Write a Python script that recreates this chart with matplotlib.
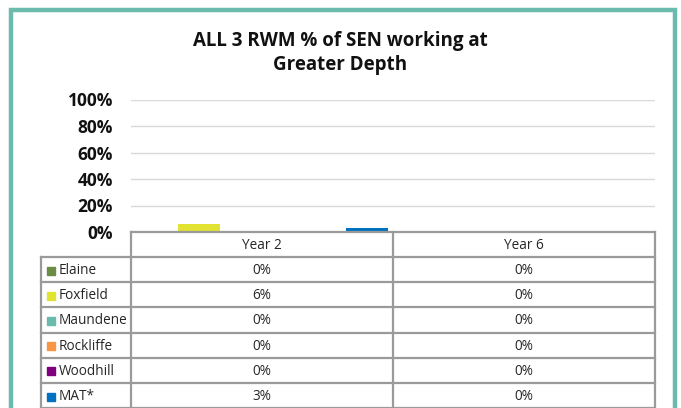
import matplotlib.pyplot as plt
from matplotlib.lines import Line2D
from matplotlib.patches import Rectangle
import numpy as np

plt.rcParams['font.family'] = ['Open Sans', 'DejaVu Sans']

# data
categories = ['Year 2', 'Year 6']
schools = ['Elaine', 'Foxfield', 'Maundene', 'Rockliffe', 'Woodhill', 'MAT*']
values = {
    'Elaine':    [0, 0],
    'Foxfield':  [6, 0],
    'Maundene':  [0, 0],
    'Rockliffe': [0, 0],
    'Woodhill':  [0, 0],
    'MAT*':      [3, 0],
}
colors = ['#6a8c44', '#e2e232', '#6bbaae', '#f79646', '#7f007f', '#0070c0']
yticks = [0, 20, 40, 60, 80, 100]

W, H = 681, 408
fig = plt.figure(figsize=(W / 100, H / 100), dpi=100)


def fx(px):
    return px / W


def fy(py):
    return 1 - py / H


# outer teal frame
fig.add_artist(Rectangle((fx(11), fy(430)), fx(674.5) - fx(11), fy(10) - fy(430),
                         fill=False, edgecolor='#6bbaae', linewidth=3.2))

fig.text(0.5, fy(41), 'ALL 3 RWM % of SEN working at', ha='center', va='center',
         fontsize=13.5, fontweight='bold', color='#111111')
fig.text(0.5, fy(65), 'Greater Depth', ha='center', va='center',
         fontsize=13.5, fontweight='bold', color='#111111')

# plot area
left, right, top, bottom = 131, 655, 99.5, 232
ax = fig.add_axes([fx(left), fy(bottom), fx(right) - fx(left), fy(top) - fy(bottom)])
bw = 0.16
x = np.arange(len(categories))
for i, s in enumerate(schools):
    ax.bar(x + (i - 2.5) * bw, values[s], width=bw, color=colors[i], zorder=3)
ax.set_xlim(-0.5, 1.5)
ax.set_ylim(0, 100)
ax.set_yticks(yticks)
ax.set_yticklabels([f'{t}%' for t in yticks], fontsize=12.5, fontweight='bold', color='#111111')
ax.tick_params(axis='y', length=0, pad=13)
ax.set_xticks([])
for sp in ax.spines.values():
    sp.set_visible(False)
ax.grid(axis='y', color='#d9d9d9', linewidth=1, zorder=0)

# data table below the axes
lc = '#9a9a9a'
lw = 1.6
row_h = 25.2
header_top = 232
rows_top = 257
col_x = [41, 131, 393, 655]
tc = '#262626'
fs = 9.8


def hline(y, x0, x1):
    fig.add_artist(Line2D([fx(x0), fx(x1)], [fy(y), fy(y)], color=lc, linewidth=lw))


def vline(xp, y0, y1):
    fig.add_artist(Line2D([fx(xp), fx(xp)], [fy(y0), fy(y1)], color=lc, linewidth=lw))


table_bottom = rows_top + row_h * len(schools)
hline(header_top, col_x[1], col_x[3])
for r in range(len(schools) + 1):
    hline(rows_top + r * row_h, col_x[0], col_x[3])
vline(col_x[0], rows_top, table_bottom)
for xp in col_x[1:]:
    vline(xp, header_top, table_bottom)

for j, c in enumerate(categories):
    fig.text(fx((col_x[j + 1] + col_x[j + 2]) / 2), fy((header_top + rows_top) / 2 + 1), c,
             ha='center', va='center', fontsize=fs, color=tc)

for r, s in enumerate(schools):
    yc = rows_top + (r + 0.5) * row_h + 1
    fig.add_artist(Rectangle((fx(47), fy(yc + 4)), fx(8), 8 / H, color=colors[r]))
    fig.text(fx(59), fy(yc), s, ha='left', va='center', fontsize=fs, color=tc)
    for j in range(len(categories)):
        fig.text(fx((col_x[j + 1] + col_x[j + 2]) / 2), fy(yc), f'{values[s][j]}%',
                 ha='center', va='center', fontsize=fs, color=tc)

fig.savefig('out.png', dpi=100)
